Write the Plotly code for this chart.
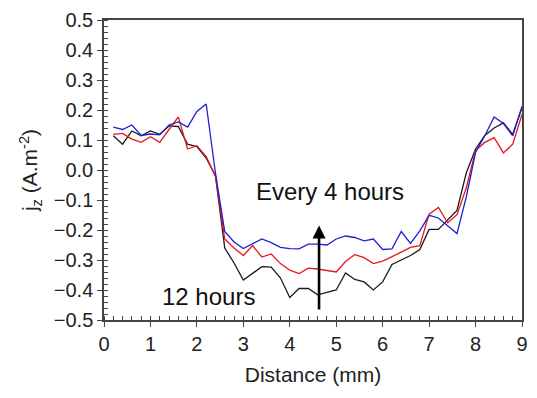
import plotly.graph_objects as go

distance = [0.2, 0.4, 0.6, 0.8, 1.0, 1.2, 1.4, 1.6, 1.8, 2.0, 2.2, 2.4, 2.6, 2.8, 3.0,
            3.2, 3.4, 3.6, 3.8, 4.0, 4.2, 4.4, 4.6, 4.8, 5.0, 5.2, 5.4, 5.6, 5.8, 6.0,
            6.2, 6.4, 6.6, 6.8, 7.0, 7.2, 7.4, 7.6, 7.8, 8.0, 8.2, 8.4, 8.6, 8.8, 9.0]

jz_black = [0.114, 0.086, 0.13, 0.114, 0.13, 0.119, 0.147, 0.145, 0.086, 0.078, 0.04, -0.02,
            -0.26, -0.31, -0.367, -0.345, -0.322, -0.324, -0.36, -0.425, -0.395, -0.395,
            -0.416, -0.408, -0.4, -0.343, -0.365, -0.373, -0.4, -0.373, -0.315, -0.3,
            -0.285, -0.265, -0.198, -0.198, -0.165, -0.135, -0.01, 0.07, 0.115, 0.14,
            0.157, 0.119, 0.207]

jz_red = [0.119, 0.122, 0.103, 0.092, 0.111, 0.092, 0.135, 0.177, 0.07, 0.081, 0.045, -0.02,
          -0.23, -0.26, -0.285, -0.252, -0.29, -0.28, -0.312, -0.334, -0.345, -0.327,
          -0.33, -0.334, -0.34, -0.305, -0.282, -0.292, -0.312, -0.304, -0.29, -0.274,
          -0.258, -0.252, -0.147, -0.125, -0.176, -0.149, -0.06, 0.065, 0.092, 0.108,
          0.057, 0.086, 0.185]

jz_blue = [0.143, 0.135, 0.15, 0.115, 0.12, 0.117, 0.15, 0.16, 0.143, 0.195, 0.22, -0.01,
           -0.205, -0.24, -0.262, -0.245, -0.23, -0.242, -0.258, -0.262, -0.263, -0.247,
           -0.247, -0.25, -0.23, -0.22, -0.225, -0.236, -0.23, -0.265, -0.263, -0.205,
           -0.245, -0.203, -0.151, -0.16, -0.187, -0.212, -0.09, 0.059, 0.114, 0.177,
           0.155, 0.114, 0.212]

FONT = "Arial, Liberation Sans, sans-serif"

fig = go.Figure()
for ys, col in [(jz_black, "#1a1a1a"), (jz_red, "#e8161b"), (jz_blue, "#1f1fd6")]:
    fig.add_trace(go.Scatter(x=distance, y=ys, mode="lines",
                             line=dict(color=col, width=1.3), showlegend=False))

axis_common = dict(showgrid=False, zeroline=False, showline=True, linecolor="#444",
                   linewidth=1.5, mirror=True, ticks="outside", ticklen=5,
                   tickcolor="#444", tickwidth=1.2,
                   tickfont=dict(family=FONT, size=20, color="#222"))

fig.update_xaxes(range=[0, 9], dtick=1, tick0=0,
                 minor=dict(dtick=0.2, ticks="inside", ticklen=4, tickcolor="#444"),
                 title=dict(text="Distance (mm)", font=dict(family=FONT, size=21, color="#222"),
                            standoff=14),
                 **axis_common)
fig.update_yaxes(range=[-0.5, 0.5], dtick=0.1, tick0=0, tickformat=".1f",
                 minor=dict(dtick=0.02, ticks="inside", ticklen=4, tickcolor="#444"),
                 title=dict(text="j<sub>z</sub> (A.m<sup>-2</sup>)",
                            font=dict(family=FONT, size=21, color="#222"), standoff=10),
                 **axis_common)

fig.add_annotation(x=4.63, y=-0.185, ax=4.63, ay=-0.47, xref="x", yref="y",
                   axref="x", ayref="y", showarrow=True, arrowhead=2, arrowsize=1,
                   arrowwidth=2.6, arrowcolor="#000", text="")
fig.add_annotation(x=4.86, y=-0.072, xref="x", yref="y", text="Every 4 hours",
                   showarrow=False, font=dict(family=FONT, size=24, color="#111"))
fig.add_annotation(x=2.25, y=-0.423, xref="x", yref="y", text="12 hours",
                   showarrow=False, font=dict(family=FONT, size=24, color="#111"))

fig.update_layout(width=537, height=398, margin=dict(l=104, r=9, t=15, b=78),
                  plot_bgcolor="white", paper_bgcolor="white")

fig.write_html("out.html")
